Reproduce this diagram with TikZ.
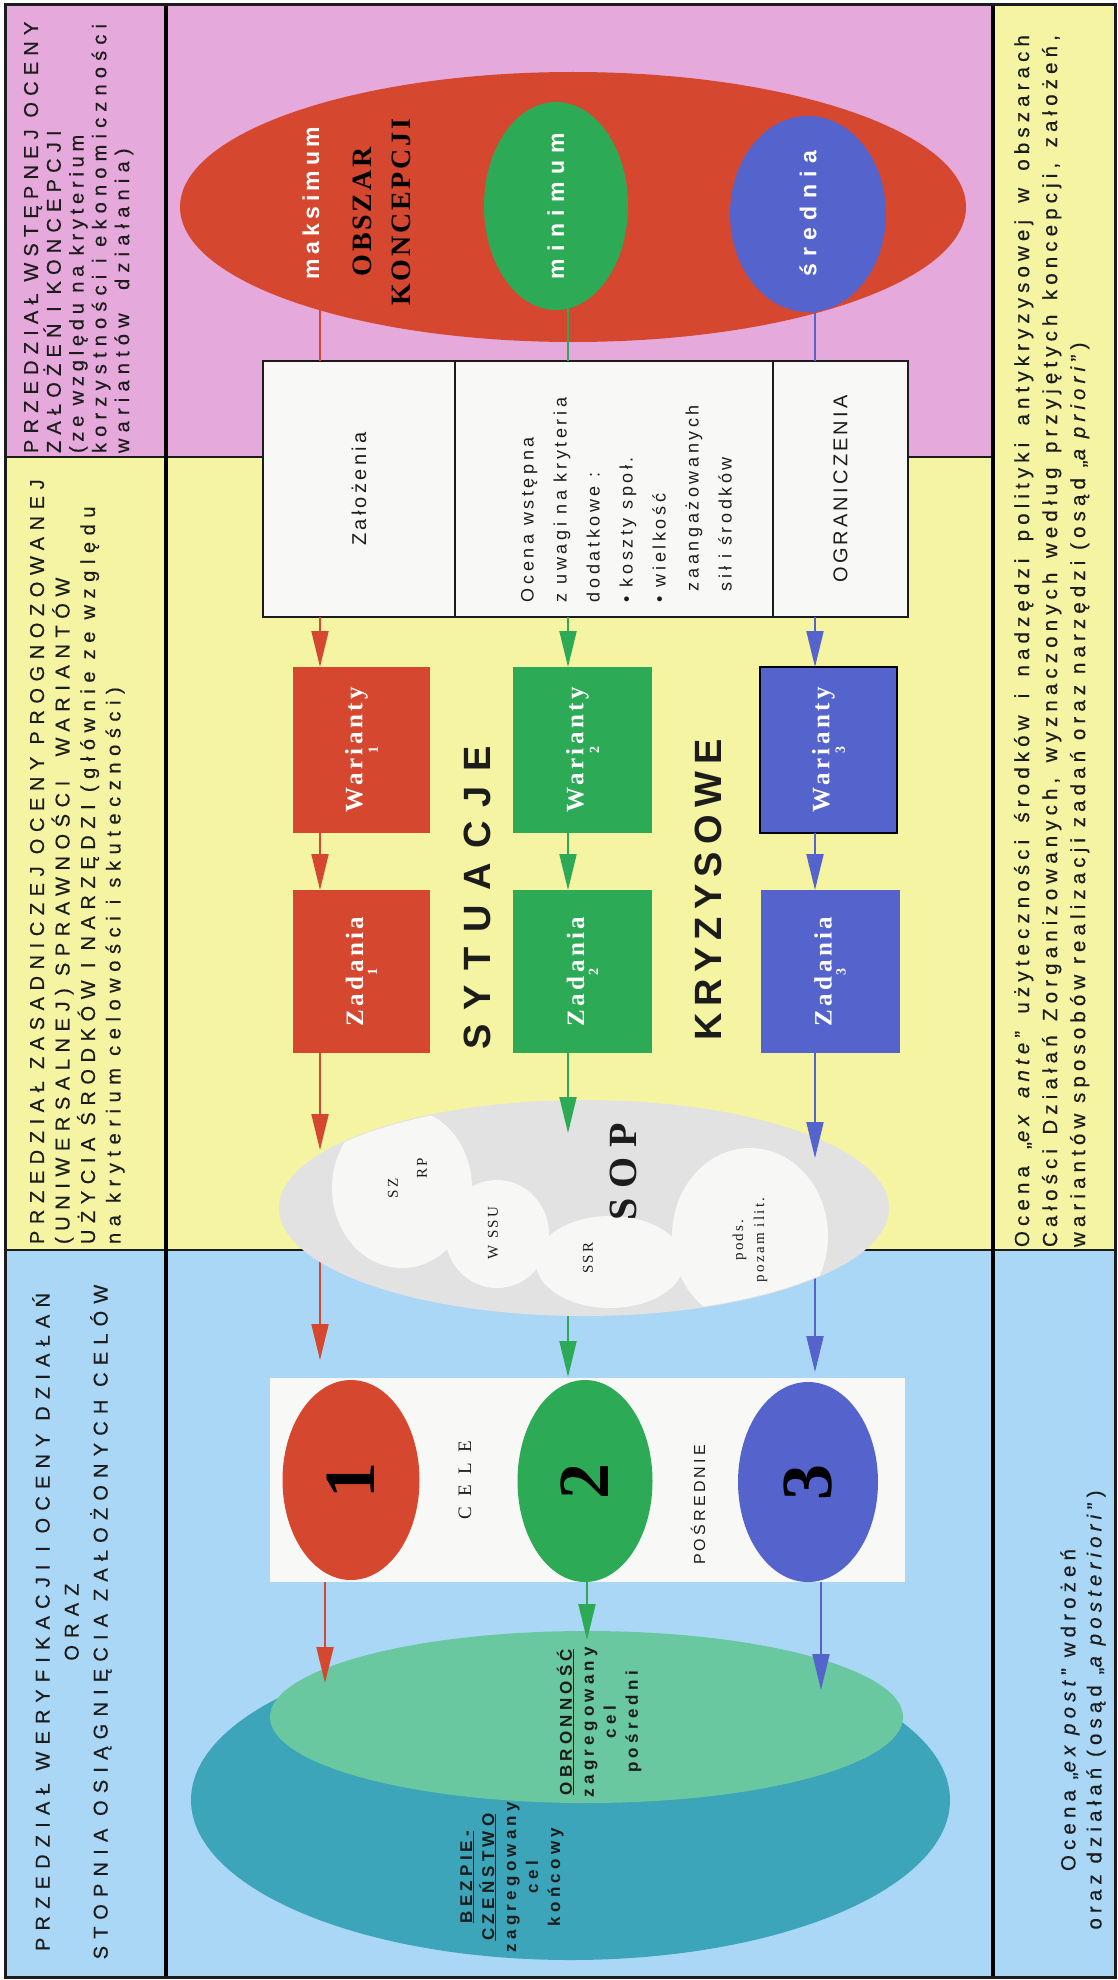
\documentclass[tikz,border=0pt]{standalone}
\usepackage{fontspec}
\setmainfont{Liberation Serif}
\setsansfont{Liberation Sans}
\usetikzlibrary{arrows.meta,shapes.geometric}
\pgfdeclarelayer{back}
\pgfdeclarelayer{behind}
\pgfsetlayers{back,behind,main}

\definecolor{bandpink}{HTML}{E6A9DB}
\definecolor{bandyellow}{HTML}{F4F4A2}
\definecolor{bandblue}{HTML}{AAD7F5}
\definecolor{cred}{HTML}{D5482F}
\definecolor{cgreen}{HTML}{2DAA55}
\definecolor{cblue}{HTML}{5564CC}
\definecolor{cmint}{HTML}{69C8A0}
\definecolor{cteal}{HTML}{3CA5B9}
\definecolor{cloudgray}{HTML}{E2E2E2}
\definecolor{cloudwhite}{HTML}{F7F7F5}
\definecolor{boxwhite}{HTML}{F8F8F6}
\definecolor{ink}{HTML}{1C1C1C}

\newcommand{\trk}[1]{\addfontfeature{LetterSpace=#1}}
\newcommand{\fsz}[2]{\fontsize{#1}{#2}\selectfont}
\newcommand{\heavy}{\addfontfeature{FakeBold=0.4}}

\tikzset{
  rt/.style={rotate=90, inner sep=0pt, outer sep=0pt},
  hdr/.style={rt, text=ink, align=left, font=\sffamily\heavy\fsz{20}{22.8}\trk{31}},
  wbox/.style={rotate=90, draw=ink, line width=1.6pt, fill=boxwhite, inner sep=0pt, outer sep=0pt, text=ink},
  cbox/.style={rotate=90, inner sep=0pt, outer sep=0pt, text=white, align=center, font=\rmfamily\bfseries\fsz{25}{14}\trk{14}},
  blob/.style={ellipse, rotate=90, inner sep=0pt, outer sep=0pt, text=white, font=\sffamily\bfseries\fsz{23}{23}\trk{32}},
  digit/.style={ellipse, rotate=90, inner sep=0pt, outer sep=0pt, text=black, font=\rmfamily\bfseries\fsz{72}{72}},
  goal/.style={rt, align=center, text=ink, font=\sffamily\bfseries\fsz{17}{22}\trk{25}},
  cloudtxt/.style={rt, text=ink, font=\rmfamily\fsz{15}{29}\trk{15}},
  arr/.style={line width=2pt, -{Triangle[length=36pt,width=17pt]}},
  link/.style={line width=1.6pt},
}

\begin{document}
\begin{tikzpicture}[x=1pt,y=-1pt]
\useasboundingbox (0,0) rectangle (1118,1980);

% ---------- bands and frame ----------
\begin{pgfonlayer}{back}
  \fill[white] (0,0) rectangle (1118,1980);
  \fill[bandpink] (5,5) rectangle (993,457);
  \fill[bandyellow] (5,457) rectangle (993,1250);
  \fill[bandyellow] (993,5) rectangle (1115,1250);
  \fill[bandblue] (5,1250) rectangle (1115,1977);
  \draw[line width=2pt, ink] (5,457) -- (993,457);
  \draw[line width=2pt, ink] (5,1250) -- (1115,1250);
  \draw[line width=4pt, black] (166,5) -- (166,1977);
  \draw[line width=4pt, black] (993,5) -- (993,1977);
  \draw[line width=3pt, ink] (5,5) rectangle (1115,1977);
\end{pgfonlayer}

% ---------- large background shapes ----------
\begin{pgfonlayer}{behind}
  \node[ellipse, fill=cred, minimum width=786pt, minimum height=270pt, inner sep=0pt] (koncepcje) at (573,207) {};
  \node[ellipse, fill=cteal, minimum width=759pt, minimum height=320pt, inner sep=0pt] (bezp) at (570.5,1800) {};
  \node[ellipse, fill=cmint, minimum width=633pt, minimum height=172pt, inner sep=0pt] (obron) at (586.5,1717) {};
\end{pgfonlayer}

% ---------- header column ----------
\node[hdr, anchor=north west] (hdrA) at (24,453)
  {PRZEDZIAŁ WSTĘPNEJ OCENY\\ZAŁOŻEŃ I KONCEPCJI\\\trk{24}(ze względu na kryterium\\korzystności i ekonomiczności\\wariantów\ \ działania)};
\node[hdr, anchor=north west, font=\sffamily\heavy\fsz{20}{25.5}\trk{33}] (hdrB) at (30,1244)
  {PRZEDZIAŁ ZASADNICZEJ OCENY PROGNOZOWANEJ\\(UNIWERSALNEJ) SPRAWNOŚCI\ \ WARIANTÓW\\UŻYCIA ŚRODKÓW I NARZĘDZI (głównie ze względu\\na kryterium celowości i skuteczności)};
\node[hdr, align=center, font=\sffamily\heavy\fsz{20}{29}\trk{36}] (hdrC) at (72,1622)
  {PRZEDZIAŁ WERYFIKACJI I OCENY DZIAŁAŃ\\ORAZ\\STOPNIA OSIĄGNIĘCIA ZAŁOŻONYCH CELÓW};

% ---------- right column ----------
\node[rt, anchor=north west, align=left, text=ink, font=\sffamily\heavy\fsz{20.5}{28}\trk{25}] (exante) at (1014,1247)
  {\makebox[1212pt][s]{Ocena „\textit{ex ante}” użyteczności środków i nadzędzi polityki antykryzysowej w obszarach}\\
   \makebox[1212pt][s]{Całości Działań Zorganizowanych, wyznaczonych według przyjętych koncepcji, założeń,}\\
   wariantów sposobów realizacji zadań oraz narzędzi (osąd „\textit{a priori}”)};
\node[rt, align=center, text=ink, font=\sffamily\heavy\fsz{20.5}{26}\trk{25}] (expost) at (1083,1710)
  {Ocena „\textit{ex post}” wdrożeń\\oraz działań (osąd „\textit{a posteriori}”)};

% ---------- first row of boxes ----------
\node[wbox, minimum width=256pt, minimum height=192pt, font=\sffamily\fsz{20}{20}\trk{17}] (zal) at (359,489) {Założenia};
\node[wbox, minimum width=256pt, minimum height=318pt] (ocena) at (614,489) {};
\node[wbox, minimum width=256pt, minimum height=135pt, font=\sffamily\fsz{20}{20}\trk{16}] (ogr) at (840.5,489) {OGRANICZENIA};
\node[rt, anchor=north west, align=left, text=ink, font=\sffamily\fsz{18}{33}\trk{20}] (ocenatxt) at (521,602)
  {Ocena wstępna\\z uwagi na kryteria\\dodatkowe :\\• koszty społ.\\• wielkość\\\hspace*{11pt}zaangażowanych\\\hspace*{11pt}sił i środków};

% ---------- variants and tasks ----------
\node[cbox, fill=cred, minimum width=166pt, minimum height=137pt] (war1) at (361.5,750) {Warianty\\{\fsz{14}{14}1}};
\node[cbox, fill=cgreen, minimum width=166pt, minimum height=139pt] (war2) at (582.5,750) {Warianty\\{\fsz{14}{14}2}};
\node[cbox, fill=cblue, draw=black, line width=2pt, minimum width=166pt, minimum height=137pt] (war3) at (828.5,750) {Warianty\\{\fsz{14}{14}3}};
\node[cbox, fill=cred, minimum width=163pt, minimum height=137pt] (zad1) at (361.5,971.5) {Zadania\\{\fsz{14}{14}1}};
\node[cbox, fill=cgreen, minimum width=163pt, minimum height=139pt] (zad2) at (582.5,971.5) {Zadania\\{\fsz{14}{14}2}};
\node[cbox, fill=cblue, minimum width=163pt, minimum height=139pt] (zad3) at (830,971.5) {Zadania\\{\fsz{14}{14}3}};

\node[rt, text=ink, font=\sffamily\bfseries\fsz{38}{38}\trk{38}] (tsyt) at (477,898) {SYTUACJE};
\node[rt, text=ink, font=\sffamily\bfseries\fsz{38}{38}\trk{19}] (tkry) at (708,890) {KRYZYSOWE};

% ---------- links from the concept area ----------
\coordinate (xr) at (320,0);
\coordinate (xg) at (568,0);
\coordinate (xb) at (815,0);
\draw[link, cred] (xr |- koncepcje.center) -- (zal.east -| xr);
\draw[link, cgreen] (xg |- koncepcje.center) -- (ocena.east -| xg);
\draw[link, cblue] (xb |- koncepcje.center) -- (ogr.east -| xb);

\node[rt, text=white, font=\sffamily\bfseries\fsz{23}{23}\trk{20}] (tmaks) at (311,203) {maksimum};
\node[rt, align=center, text=black, font=\rmfamily\bfseries\fsz{28}{39}\trk{10}] (tobszar) at (381.5,212) {OBSZAR\\KONCEPCJI};
\node[blob, fill=cgreen, minimum width=208pt, minimum height=144pt] (minimum) at (556,206) {minimum};
\node[blob, fill=cblue, minimum width=196pt, minimum height=156pt] (srednia) at (808,214) {średnia};

% ---------- the SOP cloud ----------
\node[ellipse, fill=cloudgray, minimum width=610pt, minimum height=216pt, inner sep=0pt] (sop) at (584,1208) {};
\begin{scope}
  \clip (584,1208) ellipse [x radius=304pt, y radius=107pt];
  \fill[cloudwhite] (402,1188) ellipse [x radius=70pt, y radius=80pt];
  \fill[cloudwhite] (497,1234) ellipse [x radius=52pt, y radius=54pt];
  \fill[cloudwhite] (610,1262) ellipse [x radius=74pt, y radius=46pt];
  \fill[cloudwhite] (750,1236) ellipse [x radius=78pt, y radius=88pt];
\end{scope}
\node[cloudtxt, align=left] (tszrp) at (407.5,1178) {SZ\\\hphantom{SZ}RP};
\node[cloudtxt] (twssu) at (493,1233) {W SSU};
\node[cloudtxt] (tssr) at (588,1258) {SSR};
\node[rt, text=ink, font=\rmfamily\bfseries\fsz{40}{40}\trk{25}] (tsop) at (623,1172) {SOP};
\node[cloudtxt, align=center, font=\rmfamily\fsz{15}{21}\trk{15}] (tpods) at (750,1240) {pods.\\pozam ilit.};

% ---------- goals panel ----------
\node[fill=boxwhite, minimum width=635pt, minimum height=204pt, inner sep=0pt] (celepanel) at (587.5,1480) {};
\node[digit, fill=cred, minimum width=200pt, minimum height=137pt] (c1) at (351,1480) {1};
\node[digit, fill=cgreen, minimum width=202pt, minimum height=135pt] (c2) at (585,1481) {2};
\node[digit, fill=cblue, minimum width=200pt, minimum height=140pt] (c3) at (808,1482) {3};
\node[rt, text=ink, font=\rmfamily\fsz{19}{19}\trk{55}] (tcele) at (465,1480) {CELE};
\node[rt, text=ink, font=\sffamily\fsz{16}{16}\trk{20}] (tposr) at (698,1505) {POŚREDNIE};

% ---------- final goals ----------
\node[goal] (tbez) at (512,1877) {\underline{BEZPIE-}\\\underline{CZEŃSTWO}\\zagregowany\\cel\\końcowy};
\node[goal] (tobr) at (599,1722) {\underline{OBRONNOŚĆ}\\zagregowany\\cel\\pośredni};

% ---------- arrows ----------
\draw[arr, cred] (zal.west -| xr) -- (war1.east -| xr);
\draw[arr, cgreen] (ocena.west -| xg) -- (war2.east -| xg);
\draw[arr, cblue] (ogr.west -| xb) -- (war3.east -| xb);
\draw[arr, cred] (war1.west -| xr) -- (zad1.east -| xr);
\draw[arr, cgreen] (war2.west -| xg) -- (zad2.east -| xg);
\draw[arr, cblue] (war3.west -| xb) -- (zad3.east -| xb);

\coordinate (tR1) at (320,1150);
\coordinate (tG1) at (568,1133);
\coordinate (tB1) at (815,1158);
\draw[arr, cred] (zad1.west -| xr) -- (tR1);
\draw[arr, cgreen] (zad2.west -| xg) -- (tG1);
\draw[arr, cblue] (zad3.west -| xb) -- (tB1);

\coordinate (tR2) at (320,1360);
\coordinate (tG2) at (568,1377);
\coordinate (tB2) at (815,1372);
\coordinate (xr5) at (325,0);
\coordinate (xg5) at (587,0);
\coordinate (xb5) at (821,0);
\coordinate (tR3) at (325,1683);
\coordinate (tG3) at (587,1640);
\coordinate (tB3) at (821,1690);
\begin{pgfonlayer}{behind}
  \draw[arr, cred] (xr |- sop.center) -- (tR2);
  \draw[arr, cgreen] (xg |- sop.center) -- (tG2);
  \draw[arr, cblue] (xb |- sop.center) -- (tB2);
  \draw[arr, cred] (xr5 |- c1.center) -- (tR3);
  \draw[arr, cgreen] (xg5 |- c2.center) -- (tG3);
  \draw[arr, cblue] (xb5 |- c3.center) -- (tB3);
\end{pgfonlayer}
\end{tikzpicture}
\end{document}
